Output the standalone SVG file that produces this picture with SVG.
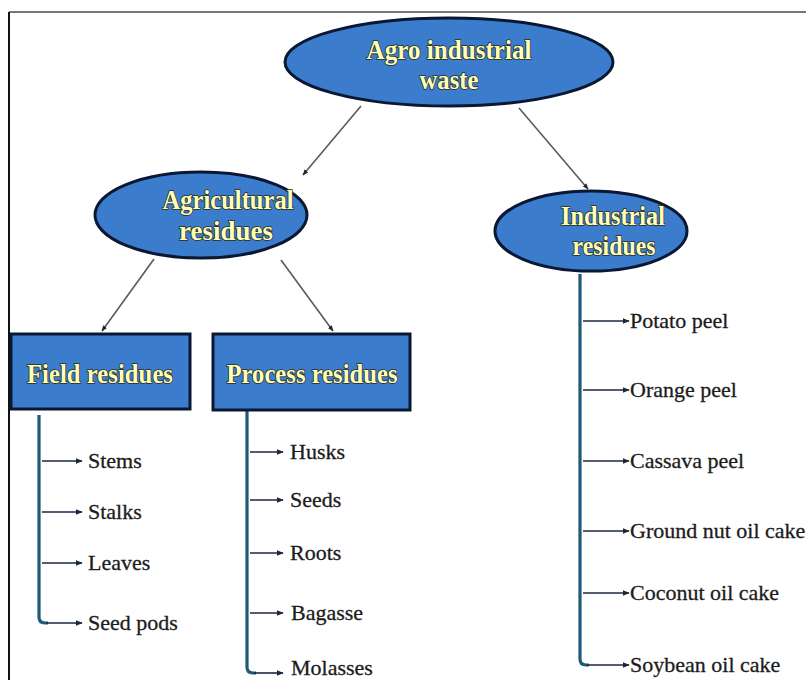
<svg xmlns="http://www.w3.org/2000/svg" width="806" height="680" viewBox="0 0 806 680">
<defs>
<style>
.node{fill:#3b7ccd;stroke:#0b1833;stroke-width:3}
.title{font-family:"Liberation Serif","DejaVu Serif",serif;font-weight:bold;font-size:28px;fill:#ffffb8;stroke:#2a2a1a;stroke-width:1.6px;paint-order:stroke;text-anchor:middle}
.leaf{font-family:"Liberation Serif","DejaVu Serif",serif;font-size:22px;fill:#1c1c1c;stroke:#1c1c1c;stroke-width:0.3px}
.conn{stroke:#5a5a5a;stroke-width:1.6;fill:none;marker-end:url(#ah)}
.trunk{stroke:#1d5a78;stroke-width:3.2;fill:none}
.br{stroke:#1b2640;stroke-width:1.6;fill:none;marker-end:url(#bh)}
</style>
<marker id="ah" viewBox="0 0 10 10" refX="9" refY="5" markerWidth="6" markerHeight="6" orient="auto" markerUnits="userSpaceOnUse"><path d="M0,1 L10,5 L0,9 Z" fill="#1b2640"/></marker>
<marker id="bh" viewBox="0 0 10 10" refX="9" refY="5" markerWidth="7" markerHeight="7" orient="auto" markerUnits="userSpaceOnUse"><path d="M0,1 L10,5 L0,9 Z" fill="#1b2640"/></marker>
</defs>
<rect x="0" y="0" width="806" height="680" fill="#fff"/>
<line x1="9" y1="12" x2="806" y2="12" stroke="#777" stroke-width="2"/>
<line x1="9" y1="12" x2="9" y2="680" stroke="#111" stroke-width="2"/>

<g id="connectors">
<line class="conn" x1="361" y1="106" x2="303" y2="175"/>
<line class="conn" x1="519" y1="108" x2="588" y2="189"/>
<line class="conn" x1="154" y1="259" x2="102" y2="331"/>
<line class="conn" x1="281" y1="260" x2="333" y2="331"/>
<path class="trunk" d="M39,415 V617 Q39,623 45,623 H48"/>
<line class="br" x1="42" y1="461" x2="82" y2="461"/>
<line class="br" x1="42" y1="512" x2="82" y2="512"/>
<line class="br" x1="42" y1="563" x2="82" y2="563"/>
<line class="br" x1="46" y1="623" x2="82" y2="623"/>
<path class="trunk" d="M247,411 V667 Q247,673 253,673 H256"/>
<line class="br" x1="250" y1="452" x2="283" y2="452"/>
<line class="br" x1="250" y1="500" x2="283" y2="500"/>
<line class="br" x1="250" y1="553" x2="283" y2="553"/>
<line class="br" x1="250" y1="613" x2="283" y2="613"/>
<line class="br" x1="254" y1="673" x2="283" y2="673"/>
<path class="trunk" d="M580,274 V659 Q580,665 586,665 H589"/>
<line class="br" x1="583" y1="321" x2="629" y2="321"/>
<line class="br" x1="583" y1="390" x2="629" y2="390"/>
<line class="br" x1="583" y1="461" x2="629" y2="461"/>
<line class="br" x1="583" y1="531" x2="629" y2="531"/>
<line class="br" x1="583" y1="593" x2="629" y2="593"/>
<line class="br" x1="587" y1="665" x2="629" y2="665"/>
</g>

<g id="agro">
<ellipse class="node" cx="449" cy="62" rx="164" ry="44"/>
<text class="title" x="449" y="59" textLength="165" lengthAdjust="spacingAndGlyphs">Agro industrial</text>
<text class="title" x="449" y="89" textLength="59" lengthAdjust="spacingAndGlyphs">waste</text>
</g>
<g id="agricultural">
<ellipse class="node" cx="201" cy="215" rx="106" ry="43"/>
<text class="title" x="228" y="209" textLength="131" lengthAdjust="spacingAndGlyphs">Agricultural</text>
<text class="title" x="226" y="240" textLength="94" lengthAdjust="spacingAndGlyphs">residues</text>
</g>
<g id="industrial">
<ellipse class="node" cx="591" cy="231" rx="96" ry="40"/>
<text class="title" x="613" y="225" textLength="104" lengthAdjust="spacingAndGlyphs">Industrial</text>
<text class="title" x="614" y="255" textLength="83" lengthAdjust="spacingAndGlyphs">residues</text>
</g>
<g id="field">
<rect class="node" x="11" y="334" width="179" height="75"/>
<text class="title" x="100" y="383" textLength="146" lengthAdjust="spacingAndGlyphs">Field residues</text>
</g>
<g id="process">
<rect class="node" x="213" y="334" width="197" height="76"/>
<text class="title" x="312" y="383" textLength="171" lengthAdjust="spacingAndGlyphs">Process residues</text>
</g>

<g id="leaves">
<text class="leaf" x="88" y="468">Stems</text>
<text class="leaf" x="88" y="519">Stalks</text>
<text class="leaf" x="88" y="570">Leaves</text>
<text class="leaf" x="88" y="630">Seed pods</text>
<text class="leaf" x="290" y="459">Husks</text>
<text class="leaf" x="290" y="507">Seeds</text>
<text class="leaf" x="290" y="560">Roots</text>
<text class="leaf" x="291" y="620">Bagasse</text>
<text class="leaf" x="291" y="675">Molasses</text>
<text class="leaf" x="630" y="328">Potato peel</text>
<text class="leaf" x="630" y="397">Orange peel</text>
<text class="leaf" x="630" y="468">Cassava peel</text>
<text class="leaf" x="630" y="538">Ground nut oil cake</text>
<text class="leaf" x="630" y="600">Coconut oil cake</text>
<text class="leaf" x="630" y="672">Soybean oil cake</text>
</g>
</svg>
